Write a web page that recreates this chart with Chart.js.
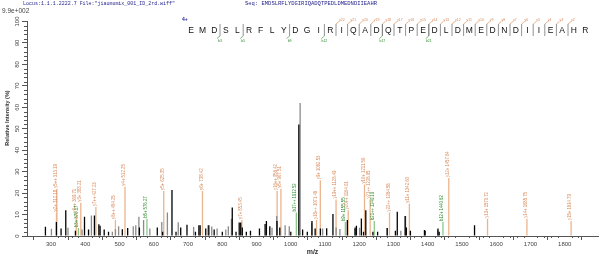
<!DOCTYPE html>
<html>
<head>
<meta charset="utf-8">
<script src="https://cdn.jsdelivr.net/npm/chart.js@4.4.0/dist/chart.umd.min.js"></script>
<style>
html, body { margin: 0; padding: 0; background: #fff; }
#wrap { position: relative; width: 600px; height: 258px; }
</style>
</head>
<body>
<div id="wrap"><canvas id="spectrum"></canvas></div>
<script>
// unassigned peaks, black (m/z, relative intensity %)
const blackMz = [287.5, 319.5, 333.2, 346.9, 375.1, 401.6, 413.4, 430.6, 443.5, 447.1, 459.1, 471.7,
  512.0, 527.6, 561.9, 614.1, 629.7, 657.0, 668.8, 682.5, 700.8, 725.5, 735.6, 739.2, 755.6, 764.6,
  780.2, 804.0, 833.0, 844.0, 853.3, 857.7, 862.3, 874.1, 886.2, 912.4, 928.9, 932.7, 942.6, 963.6,
  971.8, 1003.9, 1027.4, 1038.4, 1052.1, 1065.7, 1075.0, 1090.4, 1108.7, 1127.0, 1169.0, 1191.7,
  1195.5, 1210.0, 1216.3, 1222.9, 1243.7, 1257.4, 1285.3, 1309.4, 1314.8, 1337.8, 1341.4, 1353.2,
  1394.2, 1396.2, 1433.7, 1437.2, 1540.4];
const blackInt = [4.3, 6.5, 3.5, 12, 2.5, 9, 3, 9.5, 5.5, 4.8, 3, 2,
  3.2, 3.7, 4, 4, 2, 21.4, 2, 4, 5.3, 2, 5, 5, 3.5, 5,
  3, 2, 13.3, 2, 6.3, 6.3, 4, 2, 2.5, 3.5, 5.6, 7, 4.6, 7,
  4, 2, 52, 3, 2, 7, 3.5, 3.5, 3.6, 10.2, 7.5, 4,
  4.8, 8.2, 2, 12, 2, 2, 3.7, 2.5, 11.3, 9.3, 4, 2.5,
  2.8, 2.5, 3.5, 2, 5];

// unassigned peaks, grey
const grayMz = [301.2, 349.6, 390.7, 418.0, 479.1, 488.1, 497.4, 540.1, 547.5, 556.6, 570.3, 588.6,
  623.4, 639.8, 671.5, 716.4, 758.3, 769.3, 784.9, 810.3, 817.7, 826.8, 945.3, 959.0, 983.6, 995.7,
  1027.4, 1061.4, 1093.1, 1132.5, 1143.5, 1187.3, 1201.0, 1282.0, 1321.4, 1335.1, 1429.0];
const grayInt = [3.4, 3.9, 3, 9.5, 2, 3.2, 4.5, 4.6, 5, 9, 7.5, 3.5,
  6.5, 11, 6.4, 4.2, 5, 4.4, 3.5, 3, 4.6, 8, 3.8, 9.3, 5, 4.5,
  62, 6, 3.5, 4, 3.3, 3.3, 3.8, 3.7, 2.5, 9.3, 2.8];

// assigned fragment ions (label, m/z, height of the label line)
const ionLabels = ['y2+ 312.18', 'y5++ 313.19', 'y6++ 369.71', 'b3+ 376.17', 'y3+ 383.21',
  'y7++ 427.23', 'y8++ 484.25', 'y4+ 512.25', 'b5+ 576.27', 'y5+ 625.35', 'y6+ 738.42',
  'y7+ 853.45', 'y16++ 956.42', 'y8+ 967.51', 'b17++ 1012.52', 'y18++ 1071.48', 'y9+ 1082.53',
  'y19++ 1128.49', 'b9+ 1155.55', 'y20++ 1164.01', 'y10+ 1211.56', 'y21++ 1228.05',
  'b21++ 1240.10', 'y22++ 1284.58', 'y11+ 1342.60', 'b12+ 1440.62', 'y12+ 1457.64',
  'y13+ 1570.72', 'y14+ 1685.75', 'y15+ 1814.79'];
const ionMz = [312.18, 313.19, 369.71, 376.17, 383.21, 427.23, 484.25, 512.25, 576.27, 625.35,
  738.42, 853.45, 956.42, 967.51, 1012.52, 1071.48, 1082.53, 1128.49, 1155.55, 1164.01, 1211.56,
  1228.05, 1240.10, 1284.58, 1342.60, 1440.62, 1457.64, 1570.72, 1685.75, 1814.79];
const ionInt = [11, 22, 10.5, 3.7, 15.5, 13.5, 7.5, 23, 8, 21, 21, 7.5, 21, 22, 11, 7.5, 26,
  17, 6.5, 12, 24, 17, 7, 11, 15, 6.5, 27, 8, 8, 7];

const xTicks = [300, 400, 500, 600, 700, 800, 900, 1000, 1100, 1200, 1300, 1400, 1500, 1600, 1700, 1800];
const yTicks = [0, 10, 20, 30, 40, 50, 60, 70, 80, 90, 100];

// peptide sequence with the fragment breaks (break after residue n)
const sequence = 'EMDSLRFLYDGIRIQADQTPEDLDMEDNDIIEAHR';
const bBreaks = [3, 5, 9, 12, 17, 21];
const yBreaks = [13, 14, 15, 16, 17, 18, 19, 20, 21, 22, 23, 24, 25, 26, 27, 28, 29, 30, 31, 32, 33];

const isB = l => l.charAt(0) === 'b';
const toPoints = (xs, ys) => xs.map((x, i) => ({ x: x, y: ys[i] }));

const spectrumText = {
  id: 'spectrumText',
  afterDraw(chart) {
    const ctx = chart.ctx;
    const xs = chart.scales.x;
    const ys = chart.scales.y;
    ctx.save();

    // ion labels, written upwards from the top of each line
    ctx.font = '5px "Liberation Sans"';
    ctx.textAlign = 'left';
    ctx.textBaseline = 'middle';
    ionLabels.forEach((label, i) => {
      const px = xs.getPixelForValue(ionMz[i]);
      const py = ys.getPixelForValue(ionInt[i]);
      ctx.save();
      ctx.translate(px, py - 1);
      ctx.rotate(-Math.PI / 2);
      ctx.fillStyle = isB(label) ? '#2f8f2f' : '#d98a5c';
      ctx.fillText(label, 0, 0, label.length * 2.15);
      ctx.restore();
    });

    // minor ticks
    ctx.strokeStyle = '#555';
    ctx.lineWidth = 1;
    ctx.beginPath();
    for (let v = 300; v <= 1840; v += 20) {
      if (v % 100 === 0) continue;
      const px = Math.round(xs.getPixelForValue(v)) + 0.5;
      ctx.moveTo(px, xs.top);
      ctx.lineTo(px, xs.top + 2);
    }
    for (let v = 2; v < 100; v += 2) {
      if (v % 10 === 0) continue;
      const py = Math.round(ys.getPixelForValue(v)) + 0.5;
      ctx.moveTo(ys.right - 3, py);
      ctx.lineTo(ys.right, py);
    }
    ctx.stroke();

    // rotated y tick labels
    ctx.fillStyle = '#444';
    ctx.font = '6px "Liberation Sans"';
    ctx.textAlign = 'center';
    yTicks.forEach(v => {
      ctx.save();
      ctx.translate(17, ys.getPixelForValue(v));
      ctx.rotate(-Math.PI / 2);
      ctx.fillText(String(v), 0, 0);
      ctx.restore();
    });

    // y axis title
    ctx.save();
    ctx.translate(7, 118);
    ctx.rotate(-Math.PI / 2);
    ctx.font = 'bold 5.5px "Liberation Sans"';
    ctx.fillStyle = '#333';
    ctx.fillText('Relative Intensity (%)', 0, 0, 60);
    ctx.restore();

    // header
    ctx.textAlign = 'left';
    ctx.font = '5.5px "Liberation Mono"';
    ctx.fillStyle = '#25258f';
    ctx.fillText('Locus:1.1.1.2222.7 File:"jiaomumix_001_ID_2rd.wiff"', 23, 4, 152);
    ctx.fillText('Seq: ' + sequence, 245, 4, 132);
    ctx.font = '6.5px "Liberation Sans"';
    ctx.fillStyle = '#444';
    ctx.fillText('9.9e+002', 2, 11);

    // sequence with fragment breaks
    ctx.font = 'bold 5px "Liberation Sans"';
    ctx.fillStyle = '#2a2aa0';
    ctx.fillText('4+', 182, 20);
    ctx.font = '8.5px "Liberation Sans"';
    ctx.fillStyle = '#111';
    ctx.textAlign = 'center';
    const step = 11.6;
    for (let i = 0; i < sequence.length; i++) {
      ctx.fillText(sequence[i], 191 + step * i, 30.5);
    }
    const gapX = j => 191 + step * (j - 1) + step / 2;
    ctx.lineWidth = 0.8;
    yBreaks.forEach(j => {
      const gx = gapX(j);
      ctx.strokeStyle = '#777';
      ctx.beginPath();
      ctx.moveTo(gx, 36);
      ctx.lineTo(gx, 24);
      ctx.stroke();
      ctx.strokeStyle = '#e0a070';
      ctx.beginPath();
      ctx.moveTo(gx, 24);
      ctx.lineTo(gx + 3, 21.5);
      ctx.stroke();
      ctx.font = '3.5px "Liberation Sans"';
      ctx.fillStyle = '#d98a5c';
      ctx.textAlign = 'left';
      ctx.fillText('y' + (sequence.length - j), gx + 3, 20);
    });
    bBreaks.forEach(j => {
      const gx = gapX(j);
      ctx.strokeStyle = '#777';
      ctx.beginPath();
      ctx.moveTo(gx, 24);
      ctx.lineTo(gx, 36);
      ctx.stroke();
      ctx.strokeStyle = '#5aa85a';
      ctx.beginPath();
      ctx.moveTo(gx, 36);
      ctx.lineTo(gx - 3, 38.5);
      ctx.stroke();
      ctx.font = '3.5px "Liberation Sans"';
      ctx.fillStyle = '#2f8f2f';
      ctx.textAlign = 'center';
      ctx.fillText('b' + j, gx, 41);
    });

    ctx.restore();
  }
};

new Chart(document.getElementById('spectrum'), {
  type: 'bar',
  data: {
    datasets: [
      {
        data: toPoints(ionMz, ionInt),
        backgroundColor: ionLabels.map(l => isB(l) ? '#8cc88c' : '#ebb48c'),
        order: 3
      },
      { data: toPoints(grayMz, grayInt), backgroundColor: '#8a8a8a', order: 2 },
      { data: toPoints(blackMz, blackInt), backgroundColor: '#000', order: 1 }
    ]
  },
  options: {
    responsive: true,
    maintainAspectRatio: false,
    animation: false,
    layout: { padding: { top: 21.5, right: 2, left: 0, bottom: 0 } },
    // one shared stack keeps every bar centred on its own m/z
    datasets: { bar: { stack: 'peaks', barThickness: 1.3, inflateAmount: 0 } },
    plugins: { legend: { display: false }, tooltip: { enabled: false } },
    scales: {
      x: {
        type: 'linear',
        min: 282,
        max: 1845,
        afterBuildTicks: s => { s.ticks = xTicks.map(v => ({ value: v })); },
        afterFit: s => { s.height = 22; },
        grid: { drawOnChartArea: false, tickLength: 4, color: '#555' },
        border: { color: '#555' },
        ticks: {
          font: { size: 6, family: 'Liberation Sans' },
          color: '#444',
          padding: 1,
          maxRotation: 0,
          autoSkip: false,
          callback: v => String(v)
        },
        title: {
          display: true,
          text: 'm/z',
          font: { size: 7, weight: 'bold', family: 'Liberation Sans' },
          color: '#333',
          padding: { top: 0, bottom: 2 }
        }
      },
      y: {
        min: 0,
        max: 100,
        stacked: false,
        afterBuildTicks: s => { s.ticks = yTicks.map(v => ({ value: v })); },
        afterFit: s => { s.width = 27; },
        grid: { drawOnChartArea: false, tickLength: 5, color: '#555' },
        border: { color: '#555' },
        ticks: { display: false }
      }
    }
  },
  plugins: [spectrumText]
});
</script>
</body>
</html>
